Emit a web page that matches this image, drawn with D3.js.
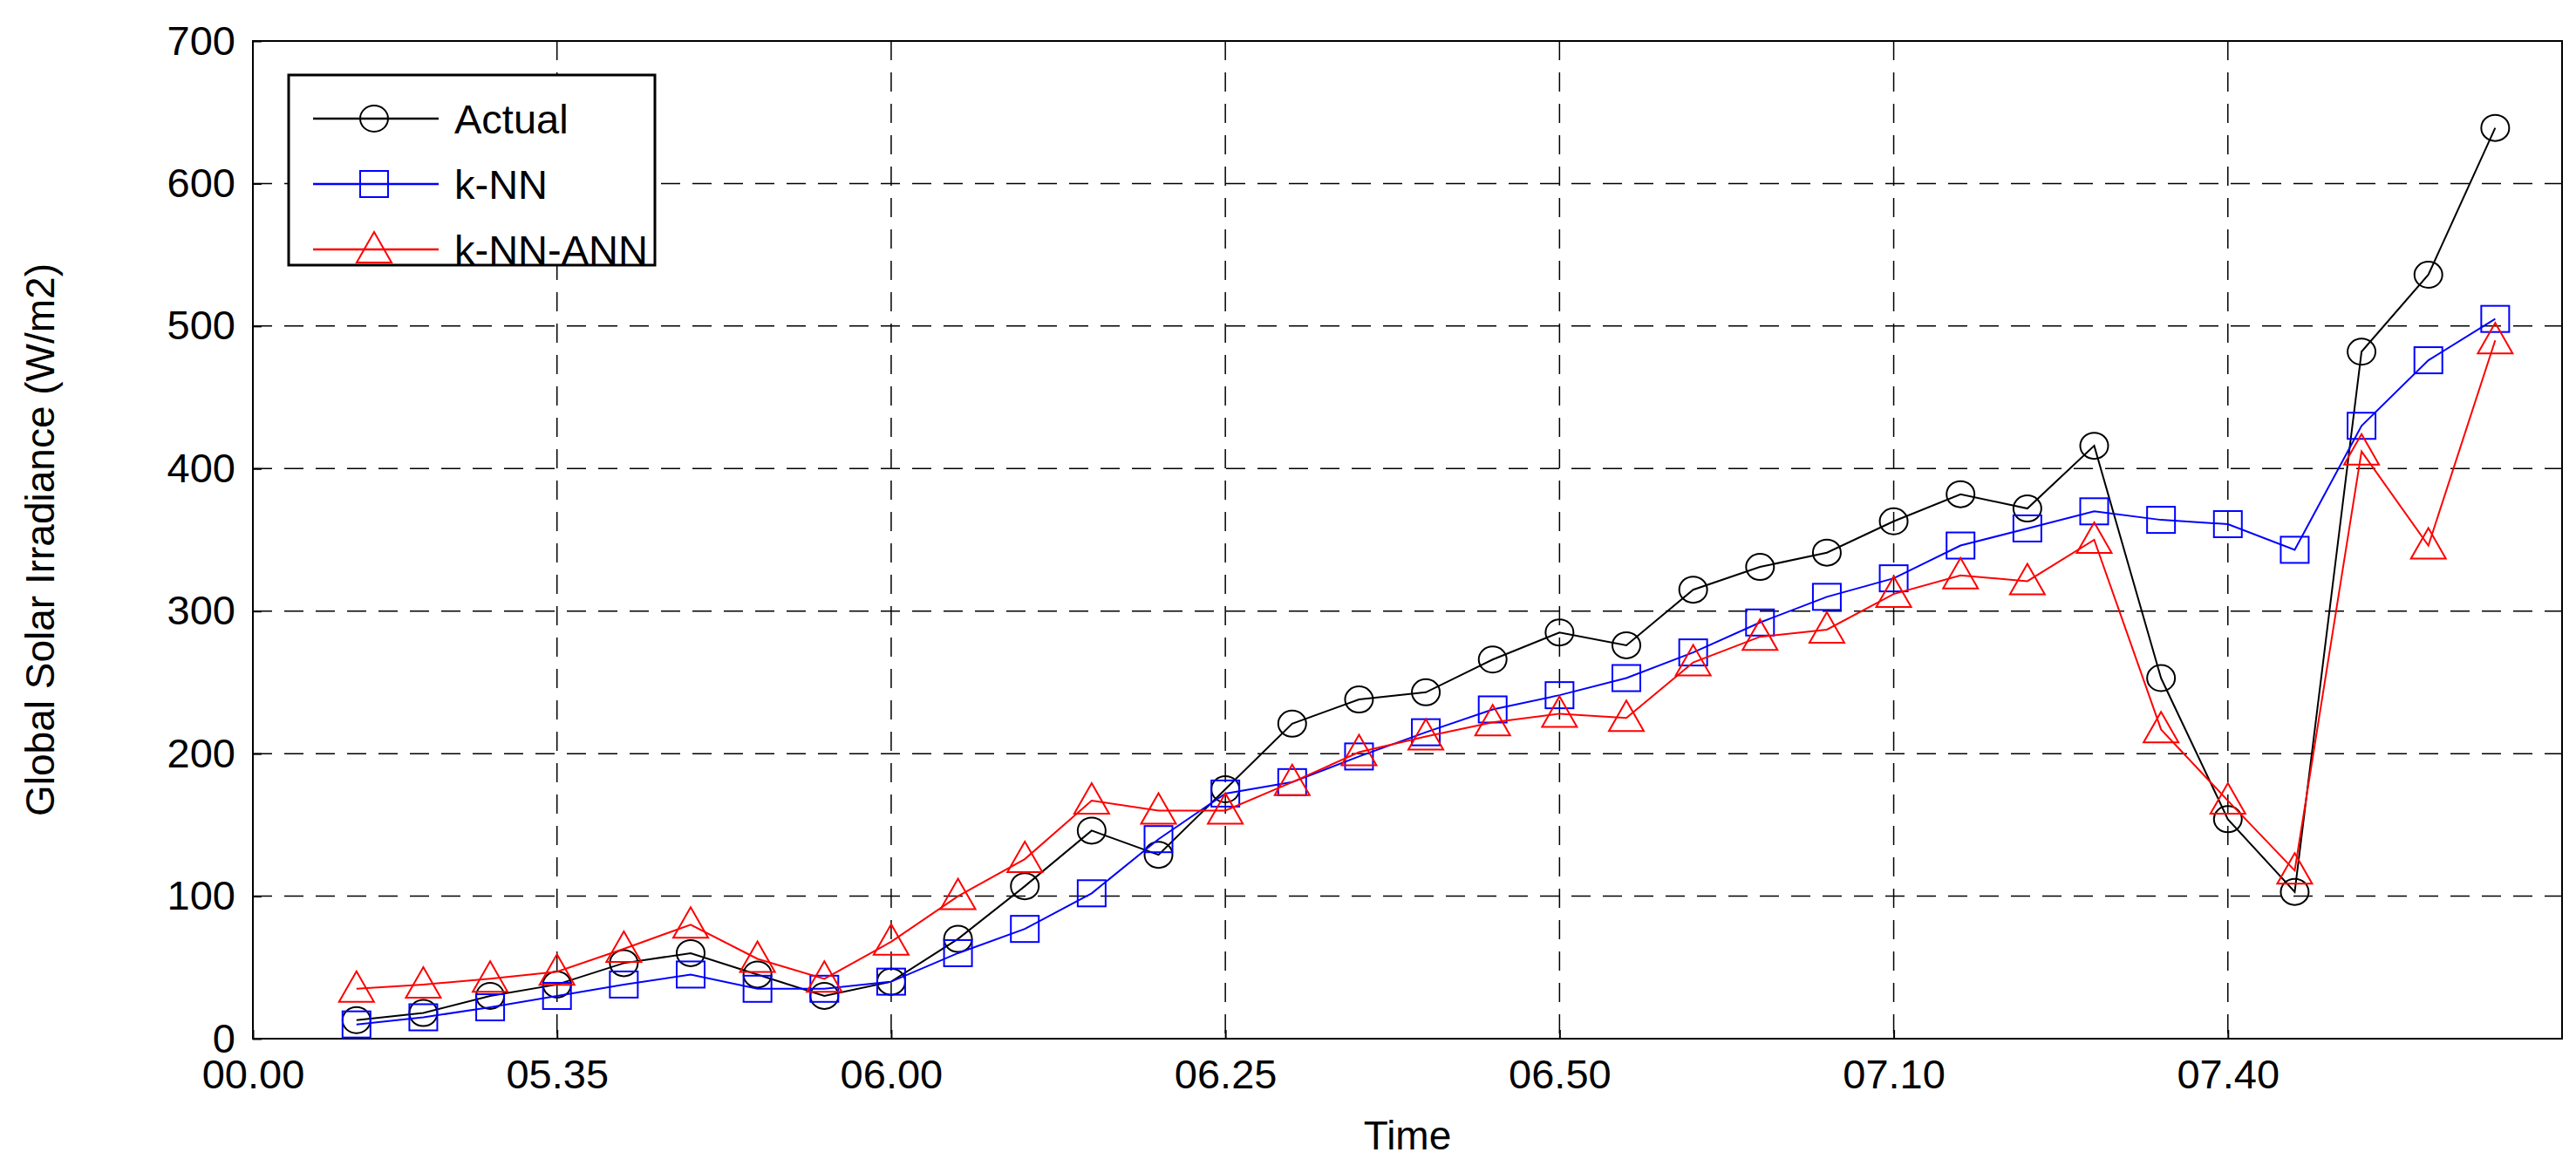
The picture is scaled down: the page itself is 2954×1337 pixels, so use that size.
<!DOCTYPE html>
<html lang="en">
<head>
<meta charset="UTF-8">
<title>Global Solar Irradiance</title>
<script src="https://d3js.org/d3.v7.min.js"></script>
<style>
  body { margin: 0; background: #fff; }
  text { font-family: "Liberation Sans", Arial, sans-serif; }
</style>
</head>
<body>
<svg width="2954" height="1337"></svg>
<script>
    // sample index 0..32, one sample every 5 min
    const actual = [13, 18, 30, 38, 53, 60, 45, 30, 40, 70, 107, 146, 129, 175, 221, 238, 243, 266, 285, 276,
        315, 331, 341, 363, 382, 372, 416, 253, 154, 103, 482, 536, 639];
    const knn = [10, 15, 22, 30, 38, 45, 35, 35, 40, 60, 77, 102, 140, 172, 180, 198, 215, 231, 241, 253,
        271, 292, 310, 323, 346, 358, 370, 364, 361, 343, 430, 476, 505];
    const knnAnn = [35, 38, 42, 47, 63, 80, 56, 42, 68, 100, 126, 167, 160, 160, 180, 201, 212, 222, 228, 225,
        264, 282, 287, 312, 325, 321, 350, 217, 167, 118, 412, 346, 490];
    const xTickIdx = [-1.55, 3, 8, 13, 18, 23, 28];
    const xTickLabels = ["00.00", "05.35", "06.00", "06.25", "06.50", "07.10", "07.40"];
    const yTicks = [0, 100, 200, 300, 400, 500, 600, 700];

    const svg = d3.select("svg"),
        margin = {top: 47, right: 16, bottom: 146, left: 290},
        width = +svg.attr("width") - margin.left - margin.right,
        height = +svg.attr("height") - margin.top - margin.bottom,
        g = svg.append("g").attr("transform", `translate(${margin.left},${margin.top})`);

    const x = d3.scaleLinear().domain([-1.55, 33.0]).range([0, width]);
    const y = d3.scaleLinear().domain([0, 700]).range([height, 0]);

    // grid
    g.append("g").selectAll("line").data(xTickIdx.slice(1)).join("line")
        .attr("x1", d => x(d)).attr("x2", d => x(d)).attr("y1", 0).attr("y2", height)
        .attr("stroke", "#000").attr("stroke-width", 1.5).attr("stroke-dasharray", "22,14");
    g.append("g").selectAll("line").data(yTicks.slice(1, -1)).join("line")
        .attr("x1", 0).attr("x2", width).attr("y1", d => y(d)).attr("y2", d => y(d))
        .attr("stroke", "#000").attr("stroke-width", 1.5).attr("stroke-dasharray", "22,14");

    const xAxis = g.append("g")
        .attr("transform", `translate(0,${height})`)
        .call(d3.axisBottom(x).tickValues(xTickIdx).tickFormat((d, i) => xTickLabels[i]).tickSize(-10).tickPadding(24));
    const yAxis = g.append("g")
        .call(d3.axisLeft(y).tickValues(yTicks).tickSize(-10).tickPadding(20));
    [xAxis, yAxis].forEach(a => {
        a.select(".domain").remove();
        a.selectAll("line").attr("stroke-width", 2);
        a.selectAll("text").attr("font-size", 47).attr("font-family", "Liberation Sans, Arial, sans-serif").attr("fill", "#000");
    });
    g.append("rect").attr("width", width).attr("height", height)
        .attr("fill", "none").attr("stroke", "#000").attr("stroke-width", 2);

    svg.append("text").attr("x", margin.left + width / 2).attr("y", 1318)
        .attr("text-anchor", "middle").attr("font-size", 46).text("Time");
    svg.append("text").attr("transform", `translate(62,${margin.top + height / 2}) rotate(-90)`)
        .attr("text-anchor", "middle").attr("font-size", 46).text("Global Solar Irradiance (W/m2)");

    const series = [
        {name: "Actual", values: actual, color: "#000", shape: "circle"},
        {name: "k-NN", values: knn, color: "#0000ff", shape: "square"},
        {name: "k-NN-ANN", values: knnAnn, color: "#ff0000", shape: "triangle"}
    ];
    const line = d3.line().x((d, i) => x(i)).y(d => y(d));

    function marker(sel, shape, color) {
        if (shape === "circle") {
            sel.append("ellipse").attr("rx", 16).attr("ry", 15);
        } else if (shape === "square") {
            sel.append("rect").attr("x", -16).attr("y", -15).attr("width", 32).attr("height", 30);
        } else {
            sel.append("path").attr("d", "M0,-20 L20,15 L-20,15 Z");
        }
        sel.selectAll("*").attr("fill", "none").attr("stroke", color).attr("stroke-width", 2);
    }

    series.forEach(s => {
        g.append("path").datum(s.values).attr("d", line)
            .attr("fill", "none").attr("stroke", s.color).attr("stroke-width", 2);
        g.append("g").selectAll("g").data(s.values).join("g")
            .attr("transform", (d, i) => `translate(${x(i)},${y(d)})`)
            .each(function () { marker(d3.select(this), s.shape, s.color); });
    });

    // legend
    const lg = svg.append("g").attr("transform", "translate(331,86)");
    lg.append("rect").attr("width", 420).attr("height", 218)
        .attr("fill", "#fff").attr("stroke", "#000").attr("stroke-width", 3);
    series.forEach((s, i) => {
        const row = lg.append("g").attr("transform", `translate(0,${50 + i * 75})`);
        row.append("line").attr("x1", 28).attr("x2", 172).attr("stroke", s.color).attr("stroke-width", 2.5);
        marker(row.append("g").attr("transform", "translate(98,0)"), s.shape, s.color);
        row.append("text").attr("x", 190).attr("y", 17).attr("font-size", 47).text(s.name);
    });
</script>
</body>
</html>
